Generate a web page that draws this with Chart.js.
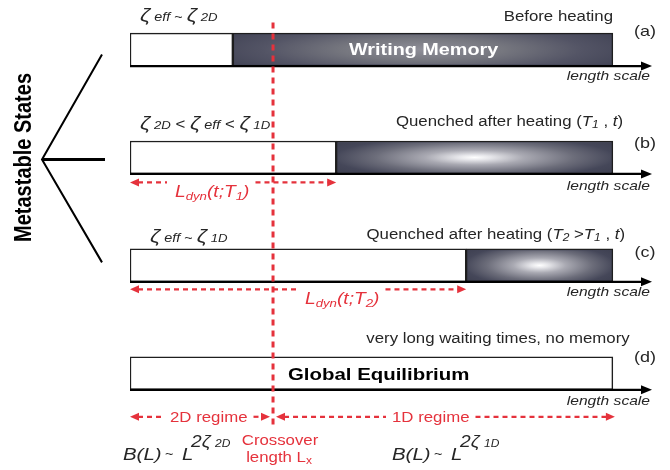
<!DOCTYPE html>
<html>
<head>
<meta charset="utf-8">
<script src="https://cdn.jsdelivr.net/npm/chart.js@4.4.1/dist/chart.umd.min.js"></script>
<style>
html, body { margin: 0; padding: 0; background: #fff; }
#chart { display: block; }
</style>
</head>
<body>
<canvas id="chart" width="670" height="470"></canvas>
<script>
"use strict";

// rows of the schematic, top to bottom
const rows = ['(a)', '(b)', '(c)', '(d)'];
const rowPos = [1, 2, 3, 4];
// positions along the length scale (0..100)
const memoryStart = [19.7, 39.5, 64.4, null];
const systemEnd = [92.5, 92.5, 92.5, 92.5];
const crossoverLength = 27.4;

const SX = 1.2; // the figure's lettering is a bit wide
const FONT = '"Liberation Sans", Arial, Helvetica, sans-serif';
const INK = '#262626';
const RED = '#e5323c';

function font(style, size) { return style + ' ' + size + 'px ' + FONT; }

// draw a line of mixed text: parts = [text, font, dy]
function runs(ctx, x, y, parts, align, color) {
	ctx.save();
	ctx.fillStyle = color || INK;
	ctx.textAlign = 'left';
	ctx.textBaseline = 'alphabetic';
	let w = 0;
	parts.forEach(function(p) { ctx.font = p[1]; w += ctx.measureText(p[0]).width; });
	ctx.translate(x, y);
	ctx.scale(SX, 1);
	let cx = align === 'right' ? -w : (align === 'center' ? -w / 2 : 0);
	parts.forEach(function(p) {
		ctx.font = p[1];
		ctx.fillText(p[0], cx, p[2] || 0);
		cx += ctx.measureText(p[0]).width;
	});
	ctx.restore();
	return w * SX;
}

function head(ctx, x, y, dir, len, half) {
	ctx.beginPath();
	ctx.moveTo(x, y);
	ctx.lineTo(x - dir * len, y - half);
	ctx.lineTo(x - dir * len, y + half);
	ctx.closePath();
	ctx.fill();
}

// red dashed double arrow, with an optional hole for a label
function redArrow(ctx, x1, x2, y, hole) {
	ctx.save();
	ctx.strokeStyle = RED;
	ctx.fillStyle = RED;
	ctx.lineWidth = 2.2;
	ctx.setLineDash([5, 4]);
	const segs = hole ? [[x1 + 8, hole[0]], [hole[1], x2 - 8]] : [[x1 + 8, x2 - 8]];
	segs.forEach(function(s) {
		ctx.beginPath();
		ctx.moveTo(s[0], y);
		ctx.lineTo(s[1], y);
		ctx.stroke();
	});
	ctx.setLineDash([]);
	head(ctx, x1, y, -1, 9, 4);
	head(ctx, x2, y, 1, 9, 4);
	ctx.restore();
}

// glow inside the memory part of each bar
const glow = [
	{ rx: 0.6, ry: 0.95, stops: [[0, '#8e8e98'], [0.35, '#76777f'], [0.7, '#535465'], [1, '#404254']] },
	{ rx: 0.6, ry: 0.75, stops: [[0, '#ffffff'], [0.1, '#e6e6ea'], [0.3, '#a9a9b2'], [0.6, '#6c6d7a'], [0.85, '#454759'], [1, '#3f4152']] },
	{ rx: 0.6, ry: 0.75, stops: [[0, '#ffffff'], [0.1, '#e6e6ea'], [0.3, '#a9a9b2'], [0.6, '#6c6d7a'], [0.85, '#454759'], [1, '#3f4152']] }
];

const schematic = {
	id: 'schematic',
	afterDatasetsDraw: function(chart) {
		const ctx = chart.ctx;
		const meta = chart.getDatasetMeta(1);
		const ds = chart.data.datasets[1];
		meta.data.forEach(function(bar, j) {
			const row = ds.data[j].row;
			const g = glow[row];
			const p = bar.getProps(['x', 'y', 'base', 'height'], true);
			const x0 = Math.min(p.x, p.base), w = Math.abs(p.x - p.base);
			const h = p.height, y0 = p.y - h / 2;
			const bw = 1.5;
			ctx.save();
			ctx.beginPath();
			ctx.rect(x0 + bw, y0 + bw, w - 2 * bw, h - 2 * bw);
			ctx.clip();
			const rx = g.rx * w, ry = g.ry * h;
			ctx.translate(x0 + w / 2, p.y);
			ctx.scale(rx / ry, 1);
			const grad = ctx.createRadialGradient(0, 0, 0, 0, 0, ry);
			g.stops.forEach(function(s) { grad.addColorStop(s[0], s[1]); });
			ctx.fillStyle = grad;
			ctx.fillRect(-2000, -200, 4000, 400);
			ctx.restore();
		});
	},
	afterDraw: function(chart) {
		const ctx = chart.ctx;
		const xs = chart.scales.x, ys = chart.scales.y;
		const x0 = xs.getPixelForValue(0);
		const xc = xs.getPixelForValue(crossoverLength);
		const xe = xs.getPixelForValue(systemEnd[3]);
		const cy = rowPos.map(function(v) { return ys.getPixelForValue(v); });
		const half = 16.5;

		// length scale axes under every bar
		ctx.save();
		ctx.strokeStyle = '#000';
		ctx.fillStyle = '#000';
		ctx.lineWidth = 2.2;
		cy.forEach(function(y) {
			ctx.beginPath();
			ctx.moveTo(x0, y + half);
			ctx.lineTo(xs.right - 8, y + half);
			ctx.stroke();
			head(ctx, xs.right, y + half, 1, 11, 4.5);
		});
		ctx.restore();

		// bracket
		ctx.save();
		ctx.strokeStyle = '#000';
		const ax = 42, ay = cy[1] + 2;
		ctx.lineWidth = 2;
		ctx.beginPath();
		ctx.moveTo(102, cy[0] + 5);
		ctx.lineTo(ax, ay);
		ctx.lineTo(102, cy[2] - 3);
		ctx.stroke();
		ctx.lineWidth = 3;
		ctx.beginPath();
		ctx.moveTo(ax, ay);
		ctx.lineTo(105, ay);
		ctx.stroke();
		ctx.restore();

		ctx.save();
		ctx.fillStyle = '#000';
		ctx.font = font('bold', 20);
		ctx.textAlign = 'center';
		ctx.textBaseline = 'middle';
		ctx.translate(24, cy[1]);
		ctx.scale(SX, 1);
		ctx.rotate(-Math.PI / 2);
		ctx.fillText('Metastable States', 0, 0);
		ctx.restore();

		// crossover line
		ctx.save();
		ctx.strokeStyle = RED;
		ctx.lineWidth = 3;
		ctx.setLineDash([6, 5]);
		ctx.beginPath();
		ctx.moveTo(xc, cy[0] - 27);
		ctx.lineTo(xc, cy[3] + 52);
		ctx.stroke();
		ctx.restore();

		// row labels and axis names
		const labelBase = [36, 148, 257, 362];
		const axisBase = [80, 190, 296, 405];
		rows.forEach(function(r, i) {
			runs(ctx, 645, labelBase[i], [[r, font('', 15)]], 'center');
			runs(ctx, 650, axisBase[i], [['length scale', font('italic', 13)]], 'right');
		});

		const z = font('italic', 18.5), sub = font('italic', 12), sub2 = font('italic', 11);
		const t = font('', 14), ti = font('italic', 14), ts = font('italic', 10);

		// (a)
		runs(ctx, 140, 21, [['ζ', z], [' eff', sub], [' ~ ', font('', 12)], ['ζ', z], [' 2D', sub2]]);
		runs(ctx, 613, 21, [['Before heating', t]], 'right');
		runs(ctx, 349, 55, [['Writing Memory', font('bold', 16.5)]], 'left', '#ffffff');

		// (b)
		runs(ctx, 140, 129, [['ζ', z], [' 2D', sub2], [' < ', font('', 14)], ['ζ', z], [' eff', sub], [' < ', font('', 14)], ['ζ', z], [' 1D', sub2]]);
		runs(ctx, 623, 126, [['Quenched after heating (', t], ['T', ti], ['1', ts, 2], [' , ', t], ['t', ti], [')', t]], 'right');

		// (c)
		runs(ctx, 150, 242, [['ζ', z], [' eff', sub], [' ~ ', font('', 12)], ['ζ', z], [' 1D', sub2]]);
		runs(ctx, 625, 239, [['Quenched after heating (', t], ['T', ti], ['2', ts, 2], [' >', t], ['T', ti], ['1', ts, 2], [' , ', t], ['t', ti], [')', t]], 'right');

		// (d)
		runs(ctx, 498, 343, [['very long waiting times, no memory', t]], 'center');
		runs(ctx, 288, 380, [['Global Equilibrium', font('bold', 17)]], 'left', '#000');

		// dynamical lengths
		const L = font('italic', 16), Ls = font('italic', 11);
		const ldynY = [null, cy[1] + 25, cy[2] + 24];
		[1, 2].forEach(function(i) {
			const xm = xs.getPixelForValue(memoryStart[i]);
			const lx = i === 1 ? 175 : 305;
			const w = runs(ctx, lx, ldynY[i] + 15, [['L', L], ['dyn', Ls, 3], ['(t;T', L], [String(i), Ls, 3], [')', L]], 'left', RED);
			redArrow(ctx, x0, xm, ldynY[i], [lx - 8, lx + w + 6]);
		});

		// regimes
		const ry = cy[3] + 43.5;
		const w2 = runs(ctx, 170, ry + 5, [['2D regime', t]], 'left', RED);
		redArrow(ctx, x0, xc - 3, ry, [164, 170 + w2 + 6]);
		const w1 = runs(ctx, 392, ry + 5, [['1D regime', t]], 'left', RED);
		redArrow(ctx, xc + 3, xe + 2, ry, [386, 392 + w1 + 6]);

		runs(ctx, xc + 7, 445, [['Crossover', t]], 'center', RED);
		runs(ctx, xc + 6, 462, [['length L', t], ['x', font('', 10), 2]], 'center', RED);

		// roughness laws
		const B = font('italic', 17), sup = font('italic', 16), sups = font('italic', 10);
		[[123, '2D'], [392, '1D']].forEach(function(f) {
			const bx = f[0];
			runs(ctx, bx, 460, [['B(L)', B]]);
			runs(ctx, bx + 42, 458, [['~', font('', 12)]]);
			runs(ctx, bx + 59, 460, [['L', B]]);
			runs(ctx, bx + 68, 447, [['2ζ', sup]]);
			runs(ctx, bx + 92, 447, [[f[1], sups]]);
		});
	}
};

const barData = rowPos.map(function(y, i) {
	return { y: y, x: [0, memoryStart[i] === null ? systemEnd[i] : memoryStart[i]], row: i };
});
const memoryData = rowPos.map(function(y, i) {
	return { y: y, x: [memoryStart[i], systemEnd[i]], row: i };
}).filter(function(d) { return d.x[0] !== null; });

new Chart(document.getElementById('chart'), {
	type: 'bar',
	data: {
		datasets: [{
			label: 'no memory',
			data: barData,
			backgroundColor: '#ffffff',
			borderColor: '#1e1e1e',
			borderWidth: 1.5,
			borderSkipped: false,
			barThickness: 33,
			grouped: false
		}, {
			label: 'memory',
			data: memoryData,
			backgroundColor: '#404254',
			borderColor: '#1e1e1e',
			borderWidth: 1.5,
			borderSkipped: false,
			barThickness: 33,
			grouped: false
		}]
	},
	options: {
		indexAxis: 'y',
		responsive: false,
		animation: false,
		events: [],
		layout: { padding: { left: 130, right: 18, top: 1, bottom: 5 } },
		plugins: {
			legend: { display: false },
			tooltip: { enabled: false }
		},
		scales: {
			x: { type: 'linear', min: 0, max: 100, display: false, offset: false },
			y: { type: 'linear', min: 0.55, max: 4.85, reverse: true, display: false, offset: false }
		}
	},
	plugins: [schematic]
});
</script>
</body>
</html>
